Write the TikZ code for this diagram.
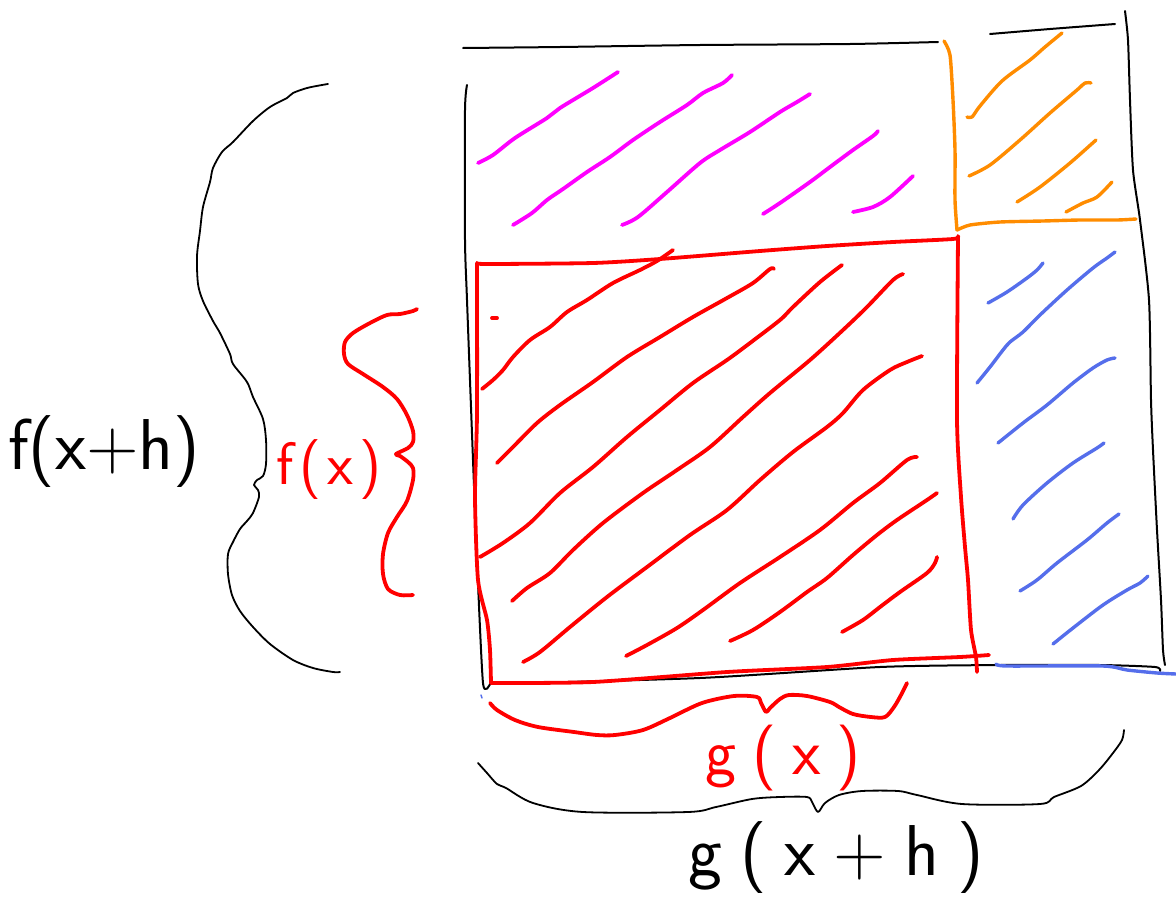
\documentclass[tikz,border=0pt]{standalone}
\usepackage{fontspec}
\definecolor{pink}{RGB}{255,0,255}
\definecolor{orng}{RGB}{255,140,0}
\definecolor{blu}{RGB}{85,110,235}
\definecolor{rd}{RGB}{255,0,0}
\tikzset{
  pen/.style={line cap=round, line join=round},
  blackline/.style={pen, draw=black, line width=2pt},
  redline/.style={pen, draw=rd, line width=3.8pt},
  pinkline/.style={pen, draw=pink, line width=3.8pt},
  orangeline/.style={pen, draw=orng, line width=3.4pt},
  blueline/.style={pen, draw=blu, line width=3.4pt},
  hand/.style={font=\sffamily\fontsize{72}{80}\selectfont, inner sep=0pt},
}
\begin{document}
\begin{tikzpicture}[x=1pt,y=-1pt]
\useasboundingbox (0,0) rectangle (1176,897);

% black frame
\draw[blackline] plot[smooth,tension=0.4] coordinates {(463,48) (560,47) (700,45) (850,44) (938,42)};
\draw[blackline] plot[smooth,tension=0.4] coordinates {(990,34) (1050,29) (1115,24)};
\draw[blackline] plot[smooth,tension=0.4] coordinates {(1125,11) (1128,40) (1130,100) (1133,170) (1140,220) (1149,300) (1151,400) (1153,450) (1157,530) (1161,600) (1163,650) (1165,665)};
\draw[blackline] plot[smooth,tension=0.4] coordinates {(467,85) (465,110) (465,240) (467,300) (473,460) (477,560) (483,683) (490,684)};
\draw[blackline] plot[smooth,tension=0.4] coordinates {(490,684) (700,678) (880,667) (1000,665) (1100,665) (1155,667) (1160,671)};

% magenta hatches
\draw[pinkline] plot[smooth,tension=0.5] coordinates {(478,163) (493,155) (515,138) (547,118) (560,108) (593,88) (618,72)};
\draw[pinkline] plot[smooth,tension=0.5] coordinates {(513,225) (532,213) (547,200) (563,189) (587,172) (610,157) (633,140) (660,122) (687,105) (703,93) (723,83) (732,75)};
\draw[pinkline] plot[smooth,tension=0.5] coordinates {(622,225) (638,217) (667,192) (700,163) (720,150) (750,132) (780,112) (797,102) (810,94)};
\draw[pinkline] plot[smooth,tension=0.5] coordinates {(763,214) (780,203) (810,182) (830,167) (853,150) (873,136) (878,131)};
\draw[pinkline] plot[smooth,tension=0.5] coordinates {(853,212) (873,207) (890,197) (913,176)};

% orange lines
\draw[orangeline] plot[smooth,tension=0.4] coordinates {(944,41) (950,55) (953,100) (955,150) (955,200) (957,230)};
\draw[orangeline] plot[smooth,tension=0.4] coordinates {(957,230) (970,225) (1000,222) (1043,221) (1080,220) (1117,220) (1136,219)};
\draw[orangeline] plot[smooth,tension=0.5] coordinates {(967,117) (972,117) (980,106) (1002,81) (1030,60) (1045,47) (1062,33)};
\draw[orangeline] plot[smooth,tension=0.5] coordinates {(969,176) (990,165) (1020,140) (1050,113) (1077,90) (1085,83) (1091,83)};
\draw[orangeline] plot[smooth,tension=0.5] coordinates {(1017,202) (1040,187) (1070,163) (1096,140)};
\draw[orangeline] plot[smooth,tension=0.5] coordinates {(1066,212) (1083,203) (1097,197) (1112,182)};

% blue lines
\draw[blueline] plot[smooth,tension=0.5] coordinates {(988,303) (1007,292) (1027,278) (1037,270) (1043,263)};
\draw[blueline] plot[smooth,tension=0.5] coordinates {(977,383) (990,367) (1003,350) (1010,342) (1023,332) (1040,315) (1067,290) (1093,268) (1107,258) (1115,252)};
\draw[blueline] plot[smooth,tension=0.5] coordinates {(998,443) (1023,423) (1047,405) (1073,383) (1093,368) (1107,360) (1115,358)};
\draw[blueline] plot[smooth,tension=0.5] coordinates {(1013,519) (1023,505) (1047,483) (1073,463) (1097,448) (1104,443)};
\draw[blueline] plot[smooth,tension=0.5] coordinates {(1020,591) (1037,580) (1057,563) (1087,540) (1107,523) (1119,514)};
\draw[blueline] plot[smooth,tension=0.5] coordinates {(1053,644) (1073,628) (1103,605) (1127,590) (1140,583) (1148,576)};
\draw[blueline] plot[smooth,tension=0.4] coordinates {(996,664) (1007,666) (1103,666) (1127,670) (1157,673) (1176,674)};
\draw[blueline, line width=1.5pt] (481,695) -- (482,698);

% red rectangle
\draw[redline] plot[smooth,tension=0.4] coordinates {(477,263) (487,264) (593,263) (660,259) (760,251) (827,246) (893,242) (953,239) (958,236)};
\draw[redline] plot[smooth,tension=0.4] coordinates {(958,237) (957,420) (961,497) (965,547) (968,580) (971,630) (976,657) (977,672)};
\draw[redline] plot[smooth,tension=0.4] coordinates {(491,683) (593,682) (727,672) (827,667) (893,660) (960,657) (989,655)};
\draw[redline] plot[smooth,tension=0.4] coordinates {(477,263) (477,413) (475,497) (478,580) (487,620) (490,650) (491,683)};
\draw[redline] (492,318) -- (497,318);

% red hatches
\draw[redline] plot[smooth,tension=0.5] coordinates {(482,389) (493,380) (503,370) (513,357) (530,340) (550,327) (567,312) (587,300) (613,283) (640,270) (657,261) (673,250)};
\draw[redline] plot[smooth,tension=0.5] coordinates {(497,463) (513,447) (537,423) (560,405) (593,382) (627,357) (660,337) (693,317) (727,298) (753,283) (770,269) (774,269)};
\draw[redline] plot[smooth,tension=0.5] coordinates {(480,557) (503,543) (530,523) (560,493) (593,467) (627,437) (660,410) (693,383) (727,360) (750,343) (780,320) (793,307) (820,282) (842,265)};
\draw[redline] plot[smooth,tension=0.5] coordinates {(512,601) (527,588) (550,573) (573,550) (603,523) (643,493) (677,470) (710,447) (743,417) (770,393) (810,360) (843,330) (867,307) (893,280) (903,274)};
\draw[redline] plot[smooth,tension=0.5] coordinates {(523,662) (540,652) (570,627) (607,597) (647,567) (690,535) (727,510) (760,480) (793,452) (827,427) (843,413) (863,390) (890,370) (907,362) (922,356)};
\draw[redline] plot[smooth,tension=0.5] coordinates {(626,656) (647,645) (677,628) (703,610) (740,583) (780,557) (820,530) (853,503) (880,483) (907,460) (917,457)};
\draw[redline] plot[smooth,tension=0.5] coordinates {(730,641) (753,630) (780,612) (807,592) (827,578) (853,555) (877,535) (897,520) (927,500) (937,493)};
\draw[redline] plot[smooth,tension=0.5] coordinates {(842,632) (863,620) (880,607) (900,592) (927,573) (935,563) (937,557)};

% left black brace
\draw[blackline, line width=1.8pt] plot[smooth,tension=0.5] coordinates {(328,84) (322,85) (307,88) (293,93) (287,98) (270,107) (253,121) (233,142) (222,152) (213,168) (210,182) (203,207) (200,231) (197,256) (198,284) (203,301) (213,321) (220,333) (230,354) (233,364) (247,382) (253,397) (263,419) (266,440) (266,464) (263,476) (257,480) (254,485) (258,490) (259,497) (253,513) (247,521) (240,529) (233,542) (228,554) (228,574) (232,595) (240,611) (253,627) (270,644) (293,660) (313,668) (333,672) (340,672)};

% red brace left
\draw[redline] plot[smooth,tension=0.5] coordinates {(417,309) (413,311) (400,314) (387,315) (370,323) (353,333) (345,342) (344,354) (348,364) (363,374) (383,387) (397,399) (407,415) (413,431) (413,442) (408,448) (396,454) (400,456) (408,462) (413,468) (413,480) (407,501) (397,517) (388,533) (383,554) (383,574) (388,589) (400,595) (413,595)};

% red brace bottom
\draw[redline] plot[smooth,tension=0.5] coordinates {(490,703) (497,710) (515,720) (538,727) (574,732) (597,735) (615,735) (643,730) (670,718) (702,703) (734,696) (757,697) (761,703) (766,712) (770,708) (780,699) (789,695) (807,696) (830,702) (839,707) (853,714) (871,717) (885,717) (894,707) (901,695) (907,683)};

% black brace bottom
\draw[blackline, line width=1.8pt] plot[smooth,tension=0.5] coordinates {(478,763) (487,773) (497,784) (506,788) (533,803) (583,812) (688,812) (716,807) (752,799) (780,797) (807,797) (812,802) (818,812) (825,803) (839,795) (862,791) (898,791) (917,795) (962,804) (1040,804) (1054,797) (1081,786) (1099,770) (1113,753) (1122,740) (1124,730)};

% labels
\node[hand] (fxh) at (104,452) {f(x+h)};
\node[hand, text=rd, font=\sffamily\fontsize{60}{66}\selectfont] (fx) at (329,470) {f\kern6pt(\kern6pt x\kern6pt)};
\node[hand, text=rd, font=\sffamily\fontsize{66}{72}\selectfont] (gx) at (783,758) {g\kern16pt(\kern16pt x\kern16pt)};
\node[hand] (gxh) at (836,858) {g\kern18pt(\kern18pt x\kern18pt+\kern18pt h\kern18pt)};
\end{tikzpicture}
\end{document}
